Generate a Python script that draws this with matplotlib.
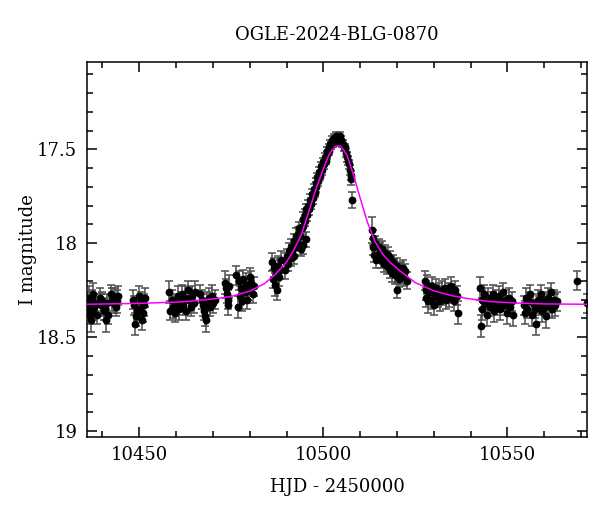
import numpy as np
import matplotlib.pyplot as plt
from matplotlib.ticker import MultipleLocator, FormatStrFormatter

plt.rcParams['font.family'] = ['DejaVu Serif']

# photometry: (HJD-2450000, I mag, error)
t_left = [10435.9, 10436.1, 10436.3, 10436.5, 10436.7, 10436.9, 10437.1, 10437.3, 10437.5, 10437.8, 10438.1, 10438.4,
          10439.4, 10439.7, 10440.0, 10440.3, 10440.6, 10440.9, 10441.2, 10441.5,
          10442.4, 10442.7, 10443.0, 10443.3, 10443.6, 10443.9, 10444.3,
          10448.3, 10448.6, 10448.9, 10449.2, 10449.5, 10449.8, 10450.1, 10450.4, 10450.7, 10451.0, 10451.2, 10451.5,
          10458.1, 10458.4, 10458.8, 10459.2, 10459.6, 10460.0, 10460.4, 10460.8, 10461.2, 10461.6, 10462.0, 10462.4,
          10462.8, 10463.2, 10463.6, 10464.0, 10464.4, 10464.8, 10465.2,
          10466.6, 10466.9, 10467.2, 10467.5, 10467.9, 10468.2, 10468.5, 10468.9, 10469.3, 10469.7, 10470.1, 10470.5,
          10473.4, 10473.6, 10473.8, 10474.0, 10474.2, 10474.4,
          10476.4, 10476.7, 10477.0, 10477.3, 10477.6, 10478.0, 10478.3, 10478.6, 10479.0, 10479.3, 10479.6, 10480.0,
          10480.4, 10480.8, 10481.2,
          10486.1, 10486.3, 10486.5, 10486.8, 10487.0, 10487.3, 10487.6, 10487.9, 10488.2, 10488.6]
m_left = [18.31, 18.35, 18.29, 18.38, 18.33, 18.41, 18.30, 18.36, 18.27, 18.34, 18.32, 18.38,
          18.29, 18.33, 18.31, 18.36, 18.35, 18.41, 18.32, 18.38,
          18.27, 18.30, 18.32, 18.29, 18.34, 18.31, 18.28,
          18.30, 18.33, 18.43, 18.39, 18.36, 18.28, 18.35, 18.31, 18.41, 18.37, 18.33, 18.29,
          18.26, 18.36, 18.30, 18.34, 18.37, 18.32, 18.28, 18.35, 18.31, 18.27, 18.33, 18.29,
          18.36, 18.25, 18.30, 18.34, 18.28, 18.32, 18.26,
          18.27, 18.30, 18.33, 18.36, 18.39, 18.41, 18.31, 18.29, 18.34, 18.28, 18.32, 18.30,
          18.21, 18.24, 18.27, 18.30, 18.33, 18.23,
          18.17, 18.34, 18.20, 18.28, 18.24, 18.31, 18.19, 18.26, 18.22, 18.30, 18.25, 18.18,
          18.21, 18.27, 18.23,
          18.10, 18.19, 18.13, 18.22, 18.16, 18.25, 18.12, 18.18, 18.14, 18.09]
e_left = [0.05, 0.05, 0.06, 0.05, 0.05, 0.06, 0.05, 0.05, 0.06, 0.05, 0.05, 0.05,
          0.05, 0.06, 0.05, 0.05, 0.06, 0.06, 0.05, 0.05,
          0.05, 0.06, 0.05, 0.05, 0.05, 0.06, 0.05,
          0.05, 0.05, 0.06, 0.05, 0.05, 0.05, 0.06, 0.05, 0.05, 0.05, 0.06, 0.05,
          0.06, 0.05, 0.05, 0.06, 0.05, 0.05, 0.05, 0.06, 0.05, 0.05, 0.05, 0.06,
          0.05, 0.05, 0.06, 0.05, 0.05, 0.05, 0.06,
          0.05, 0.05, 0.06, 0.05, 0.05, 0.06, 0.05, 0.05, 0.05, 0.06, 0.05, 0.05,
          0.06, 0.05, 0.05, 0.05, 0.05, 0.06,
          0.05, 0.06, 0.05, 0.05, 0.06, 0.05, 0.05, 0.05, 0.06, 0.05, 0.05, 0.05,
          0.06, 0.05, 0.05,
          0.05, 0.05, 0.05, 0.06, 0.05, 0.05, 0.05, 0.05, 0.05, 0.05]

t_peak = [10489.6, 10489.9, 10490.2, 10490.5, 10490.8, 10491.1, 10491.3, 10491.6, 10491.9, 10492.1, 10492.4, 10492.6,
          10492.9, 10493.1, 10493.4, 10493.6, 10493.9, 10494.1, 10494.4, 10494.5, 10494.6, 10494.9, 10495.1, 10495.3,
          10495.4, 10495.6, 10495.9, 10496.1, 10496.4, 10496.6, 10496.9, 10497.1, 10497.4, 10497.6, 10497.9, 10498.1,
          10498.4, 10498.6, 10498.9, 10499.1, 10499.4, 10499.6, 10499.9, 10500.1, 10500.4, 10500.6, 10500.9, 10501.1,
          10501.4, 10501.6, 10501.9, 10502.1, 10502.4, 10502.6, 10502.9, 10503.1, 10503.4, 10503.6, 10503.9, 10504.1,
          10504.4, 10504.6, 10504.9, 10505.1, 10505.4, 10505.6, 10505.9, 10506.1, 10506.4, 10506.6, 10506.9, 10507.1,
          10507.4, 10507.6, 10507.9]
m_peak = [18.14, 18.10, 18.07, 18.11, 18.04, 18.08, 18.02, 18.05, 18.07, 17.99, 18.02, 17.96,
          18.00, 17.95, 17.92, 17.96, 18.03, 17.92, 17.87, 18.01, 17.91, 17.85, 17.88, 17.98,
          17.82, 17.85, 17.80, 17.82, 17.77, 17.79, 17.74, 17.76, 17.71, 17.73, 17.68, 17.70,
          17.65, 17.67, 17.62, 17.64, 17.59, 17.61, 17.57, 17.58, 17.54, 17.56, 17.51, 17.53,
          17.49, 17.51, 17.47, 17.48, 17.45, 17.47, 17.44, 17.45, 17.43, 17.45, 17.44, 17.46,
          17.43, 17.46, 17.45, 17.47, 17.47, 17.49, 17.49, 17.52, 17.54, 17.56, 17.58, 17.61,
          17.64, 17.66, 17.77]
e_peak = [0.05, 0.05, 0.04, 0.04, 0.04, 0.04, 0.04, 0.04, 0.04, 0.04, 0.04, 0.04,
          0.04, 0.035, 0.035, 0.035, 0.04, 0.035, 0.035, 0.045, 0.035, 0.03, 0.03, 0.04,
          0.03, 0.03, 0.03, 0.03, 0.03, 0.03, 0.03, 0.03, 0.025, 0.025, 0.025, 0.025,
          0.025, 0.025, 0.025, 0.025, 0.025, 0.025, 0.025, 0.025, 0.02, 0.02, 0.02, 0.02,
          0.02, 0.02, 0.02, 0.02, 0.02, 0.02, 0.02, 0.02, 0.02, 0.02, 0.02, 0.02,
          0.02, 0.02, 0.02, 0.02, 0.02, 0.02, 0.02, 0.02, 0.025, 0.025, 0.025, 0.025,
          0.025, 0.03, 0.045]

t_right = [10513.1, 10513.4, 10513.6, 10513.8, 10514.0, 10514.2,
           10515.0, 10515.2, 10515.5, 10515.7, 10516.0, 10516.2, 10516.5, 10516.7, 10517.0, 10517.2, 10517.5, 10517.7,
           10518.0, 10518.2, 10518.5, 10518.7, 10519.0, 10519.2, 10519.5, 10519.9, 10520.1, 10520.4, 10520.6, 10521.0,
           10521.3, 10521.6, 10522.0, 10522.3, 10522.6,
           10527.6, 10527.8, 10528.0, 10528.2, 10528.4, 10529.0, 10529.3, 10529.6, 10530.0, 10530.3, 10530.6, 10531.0,
           10531.4, 10531.8, 10532.2, 10532.6, 10533.0, 10533.4, 10533.8, 10534.2, 10534.6, 10535.0, 10535.4, 10535.8,
           10536.2, 10536.7,
           10542.6, 10542.8, 10543.0, 10543.2, 10543.5, 10544.0, 10544.4, 10544.8, 10545.2, 10545.6, 10546.0, 10546.4,
           10546.8, 10547.2, 10547.6, 10548.0, 10548.4, 10548.8, 10549.2, 10549.6, 10550.0, 10550.4, 10550.8, 10551.2,
           10551.6,
           10554.4, 10554.7, 10555.0, 10555.4, 10555.8, 10556.2, 10556.6, 10557.0, 10557.4, 10557.8, 10558.2, 10558.6,
           10559.0, 10559.4, 10559.8, 10560.2, 10560.6, 10561.0, 10561.4, 10561.8, 10562.2, 10562.6, 10563.0, 10563.4,
           10568.9, 10571.6]
m_right = [17.93, 18.02, 17.97, 18.06, 18.00, 18.09,
           18.02, 18.06, 18.04, 18.09, 18.03, 18.07, 18.11, 18.05, 18.08, 18.12, 18.06, 18.10,
           18.14, 18.08, 18.11, 18.16, 18.10, 18.13, 18.17, 18.25, 18.12, 18.15, 18.19, 18.14,
           18.17, 18.13, 18.18, 18.15, 18.20,
           18.20, 18.25, 18.29, 18.22, 18.31, 18.26, 18.30, 18.23, 18.33, 18.27, 18.24, 18.29,
           18.26, 18.31, 18.25, 18.28, 18.24, 18.30, 18.26, 18.29, 18.23, 18.27, 18.31, 18.25,
           18.28, 18.37,
           18.24, 18.44, 18.30, 18.35, 18.27, 18.32, 18.38, 18.29, 18.34, 18.31, 18.27, 18.36,
           18.30, 18.33, 18.28, 18.35, 18.31, 18.26, 18.33, 18.30, 18.37, 18.29, 18.34, 18.31,
           18.38,
           18.33, 18.37, 18.29, 18.35, 18.31, 18.27, 18.38, 18.32, 18.35, 18.43, 18.30, 18.33,
           18.27, 18.36, 18.31, 18.34, 18.39, 18.29, 18.32, 18.26, 18.35, 18.30, 18.33, 18.31,
           18.20, 18.32]
e_right = [0.07, 0.04, 0.04, 0.04, 0.04, 0.04,
           0.04, 0.04, 0.04, 0.04, 0.04, 0.04, 0.045, 0.04, 0.04, 0.045, 0.04, 0.04,
           0.045, 0.04, 0.04, 0.045, 0.04, 0.045, 0.045, 0.04, 0.04, 0.045, 0.045, 0.04,
           0.045, 0.04, 0.045, 0.04, 0.045,
           0.05, 0.05, 0.05, 0.05, 0.06, 0.05, 0.05, 0.05, 0.05, 0.05, 0.05, 0.05,
           0.05, 0.05, 0.05, 0.05, 0.05, 0.05, 0.05, 0.05, 0.05, 0.05, 0.05, 0.05,
           0.05, 0.06,
           0.06, 0.06, 0.05, 0.06, 0.05, 0.05, 0.06, 0.05, 0.05, 0.05, 0.05, 0.06,
           0.05, 0.05, 0.05, 0.06, 0.05, 0.05, 0.05, 0.05, 0.06, 0.05, 0.05, 0.05,
           0.06,
           0.05, 0.06, 0.05, 0.05, 0.05, 0.05, 0.06, 0.05, 0.05, 0.06, 0.05, 0.05,
           0.05, 0.06, 0.05, 0.05, 0.06, 0.05, 0.05, 0.05, 0.05, 0.05, 0.06, 0.05,
           0.05, 0.05]

# fitted model curve
model_t = [10435.8, 10450, 10461, 10470, 10475, 10480, 10484, 10487, 10490, 10492, 10494, 10496, 10498,
           10500, 10501.5, 10502.3, 10503.3, 10504, 10504.7, 10505.5, 10506.5, 10508, 10510, 10512, 10514,
           10516, 10518, 10521, 10525, 10530, 10535, 10540, 10545, 10552, 10560, 10572]
model_m = [18.325, 18.32, 18.313, 18.297, 18.283, 18.255, 18.215, 18.165, 18.10, 18.035, 17.955, 17.835, 17.71,
           17.605, 17.53, 17.505, 17.485, 17.482, 17.485, 17.503, 17.535, 17.625, 17.76, 17.89, 17.99,
           18.055, 18.10, 18.15, 18.21, 18.253, 18.28, 18.297, 18.31, 18.318, 18.323, 18.325]

hjd = np.array(t_left + t_peak + t_right)
mag = np.array(m_left + m_peak + m_right)
err = np.array(e_left + e_peak + e_right)

fig = plt.figure(figsize=(6, 5.12), dpi=100)
ax = fig.add_axes([0.145, 0.147, 0.8333, 0.7313])

ax.errorbar(hjd, mag, yerr=err, fmt='o', color='black', markersize=4.6,
            ecolor='0.3', elinewidth=1.1, capsize=2.8, capthick=1.1, zorder=2)
ax.plot(model_t, model_m, color='#ff00ff', lw=1.1, zorder=3)

ax.set_xlim(10435.8, 10571.6)
ax.set_ylim(19.03, 17.037)

ax.xaxis.set_major_locator(MultipleLocator(50))
ax.xaxis.set_minor_locator(MultipleLocator(10))
ax.yaxis.set_major_locator(MultipleLocator(0.5))
ax.yaxis.set_minor_locator(MultipleLocator(0.1))
ax.yaxis.set_major_formatter(FormatStrFormatter('%g'))

for s in ax.spines.values():
    s.set_linewidth(1.1)
ax.tick_params(which='both', direction='in', top=True, right=True, labelsize=13, width=1.1)
ax.tick_params(which='major', length=7.5, pad=7)
ax.tick_params(which='minor', length=4.5)

ax.set_xlabel('HJD - 2450000', fontsize=13, labelpad=10)
ax.set_ylabel('I magnitude', fontsize=13, labelpad=0)
ax.set_title('OGLE-2024-BLG-0870', fontsize=13, pad=16)

fig.savefig('out.png', dpi=100)
